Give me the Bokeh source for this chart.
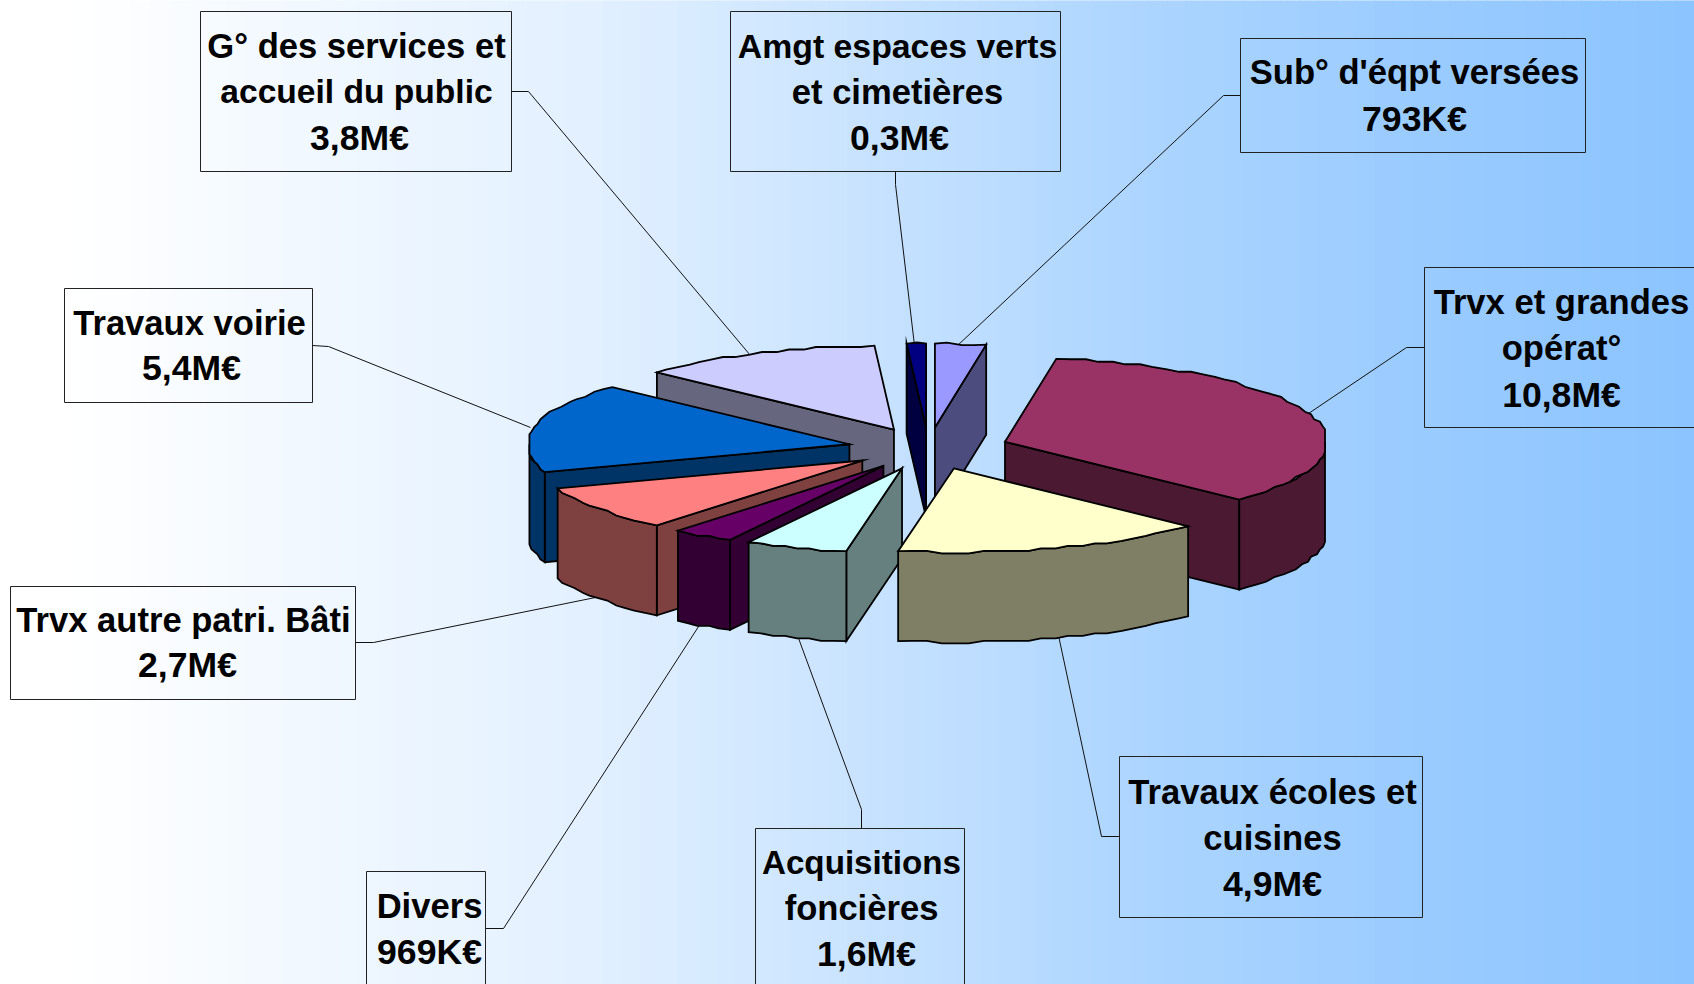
import math
from bokeh.plotting import figure
from bokeh.core.properties import value
from bokeh.embed import file_html
from bokeh.resources import INLINE

# ---- data (M EUR), clockwise from the top of the pie
categories = [["Sub° d'éqpt versées"],
              ["Trvx et grandes", "opérat°"],
              ["Travaux écoles et", "cuisines"],
              ["Acquisitions", "foncières"],
              ["Divers"],
              ["Trvx autre patri. Bâti"],
              ["Travaux voirie"],
              ["G° des services et", "accueil du public"],
              ["Amgt espaces verts", "et cimetières"]]
amounts = [0.793, 10.8, 4.9, 1.6, 0.969, 2.7, 5.4, 3.8, 0.3]
amount_labels = ["793K€", "10,8M€", "4,9M€", "1,6M€", "969K€", "2,7M€", "5,4M€", "3,8M€", "0,3M€"]
colors = ["#9999FF", "#993366", "#FFFFCC", "#CCFFFF", "#660066", "#FF8080", "#0066CC", "#CCCCFF", "#000080"]

# ---- layout (page pixels of the reference)
CX, CY, RX, RY, H, EXPLODE, START = 928, 448, 323, 84, 90, 0.25, 0.0
RIM_CLAMP = 320
boxes = [(1240, 1585, 38, 152), (1424, 1700, 267, 427), (1119, 1422, 756, 917),
         (755, 964, 828, 990), (366, 485, 871, 990), (10, 355, 586, 699),
         (64, 312, 288, 402), (200, 511, 11, 171), (730, 1060, 11, 171)]
text_x = [1414, 1561, 1272, 861, 429, 183, 189, 356, 897]
value_x = [1414, 1561, 1272, 866, 429, 187, 191, 359, 899]
baselines = [[71, 118], [301, 347, 394], [791, 837, 883], [862, 907, 953], [905, 951],
             [619, 664], [322, 367], [45, 91, 137], [45, 91, 137]]
line_sizes = [[34.6], [34.6, 34.6], [34.6, 34.6], [33.2, 34.6], [34.6], [34.6], [34.6],
              [34.6, 33.6], [33.8, 34.6]]
VALUE_SIZE = 35.6
leaders = [[(1240, 95), (1223, 95), (956, 346)], [(1424, 347), (1406, 347), (1308, 413)],
           [(1119, 836), (1101, 836), (1058, 635)], [(861, 828), (861, 809), (797, 635)],
           [(485, 928), (503, 928), (700, 623)], [(355, 642), (373, 642), (595, 597)],
           [(312, 345), (328, 346), (530, 427)], [(511, 91), (528, 91), (750, 355)],
           [(895, 171), (895, 184), (914, 345)]]
# background: red level at page x; green follows, blue stays 255
GRAD_X = [0, 75, 324, 605, 897, 1134, 1405, 1694]
GRAD_R = [255, 255, 240, 225, 197, 173, 155, 140]
GRAD_G_END = 196
N_BANDS = 90

p = figure(width=1694, height=984, x_range=(0, 1694), y_range=(984, 0),
           x_axis_type=None, y_axis_type=None, toolbar_location=None,
           output_backend="svg", min_border=0)
p.grid.visible = False
p.outline_line_color = None


def grad_color(x):
    for a, b, ra, rb in zip(GRAD_X, GRAD_X[1:], GRAD_R, GRAD_R[1:]):
        if x <= b:
            r = ra + (rb - ra) * (x - a) / (b - a)
            break
    g = 255 - (255 - r) * (255 - GRAD_G_END) / (255 - GRAD_R[-1])
    return "#%02x%02x%02x" % (round(r), round(g), 255)


edges = [i * 1694 / N_BANDS for i in range(N_BANDS + 1)]
band_colors = [grad_color((a + b) / 2) for a, b in zip(edges, edges[1:])]
p.quad(left=edges[:-1], right=edges[1:], top=[0] * N_BANDS, bottom=[984] * N_BANDS,
       fill_color=band_colors, line_color=band_colors, line_width=1)

# leader lines
p.multi_line([[q[0] for q in l] for l in leaders], [[q[1] for q in l] for l in leaders],
             line_color="#111111", line_width=1)

# pie geometry, all derived from amounts
total = sum(amounts)
starts, ends = [], []
acc = 0.0
for a in amounts:
    starts.append(START + acc / total * 360)
    acc += a
    ends.append(START + acc / total * 360)


def rim(ax, ay, t0, t1, quant=True):
    n = max(2, int(abs(t1 - t0) / 2.6) + 1)
    pts = []
    for k in range(n + 1):
        t = t0 + (t1 - t0) * k / n
        x, y = RX * math.sin(math.radians(t)), -RY * math.cos(math.radians(t))
        if quant and 0 < k < n:
            y = round(y / 2.5) * 2.5
            x = round(x / 3.0) * 3.0
        x = max(-RIM_CLAMP, min(RIM_CLAMP, x))
        pts.append((ax + x, ay + y))
    return pts


def darker(c):
    return "#%02x%02x%02x" % tuple(int(c[i:i + 2], 16) // 2 for i in (1, 3, 5))


order = [0, 8, 7, 1, 6, 5, 4, 3, 2]
xs, ys, fills = [], [], []
for i in order:
    s, e = starts[i], ends[i]
    mid = math.radians((s + e) / 2)
    ax = CX + EXPLODE * RX * math.sin(mid)
    ay = CY - EXPLODE * RY * math.cos(mid)
    wall = darker(colors[i])

    def add(points, col):
        xs.append([q[0] for q in points])
        ys.append([q[1] for q in points])
        fills.append(col)

    for t, visible in ((s, math.sin(math.radians(s)) < 0), (e, math.sin(math.radians(e)) > 0)):
        if visible:
            ex = ax + RX * math.sin(math.radians(t))
            ey = ay - RY * math.cos(math.radians(t))
            add([(ax, ay), (ex, ey), (ex, ey + H), (ax, ay + H)], wall)
    lo, hi = max(s, 90), min(e, 270)
    if lo < hi:
        top_edge = rim(ax, ay, lo, hi)
        add(top_edge + [(q[0], q[1] + H) for q in reversed(top_edge)], wall)
    add([(ax, ay)] + rim(ax, ay, s, e), colors[i])

p.patches(xs, ys, fill_color=fills, line_color="black", line_width=1.8, line_join="miter")

# label boxes and texts
p.quad(left=[b[0] for b in boxes], right=[b[1] for b in boxes],
       top=[b[2] for b in boxes], bottom=[b[3] for b in boxes],
       fill_alpha=0, line_color="#222222", line_width=1)

tx, ty, tt, ts = [], [], [], []
for i, cat in enumerate(categories):
    for j, line in enumerate(cat):
        tx.append(text_x[i]); ty.append(baselines[i][j]); tt.append(line); ts.append("%spx" % line_sizes[i][j])
    tx.append(value_x[i]); ty.append(baselines[i][len(cat)]); tt.append(amount_labels[i]); ts.append("%spx" % VALUE_SIZE)
p.text(tx, ty, text=tt, text_font=value("Liberation Sans"), text_font_style="bold",
       text_font_size=ts, text_align="center", text_baseline="alphabetic", text_color="black")

open("out.html", "w").write(file_html(p, INLINE))
